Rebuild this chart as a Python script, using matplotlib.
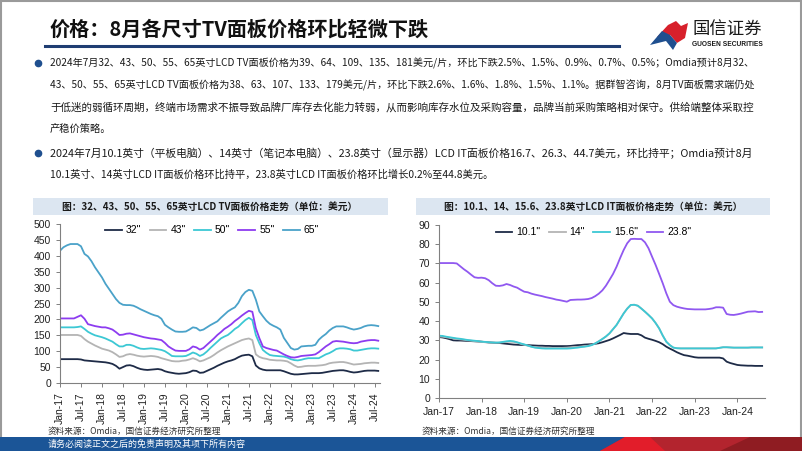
import numpy as np
import matplotlib
matplotlib.use("Agg")
import matplotlib.pyplot as plt
from matplotlib.patches import Polygon, Rectangle

plt.rcParams['font.family'] = ['Noto Sans CJK SC', 'DejaVu Sans']

# ---------------- data ----------------
tv_ticks = ['Jan-17', 'Jul-17', 'Jan-18', 'Jul-18', 'Jan-19', 'Jul-19', 'Jan-20', 'Jul-20',
            'Jan-21', 'Jul-21', 'Jan-22', 'Jul-22', 'Jan-23', 'Jul-23', 'Jan-24', 'Jul-24']
it_ticks = ['Jan-17', 'Jan-18', 'Jan-19', 'Jan-20', 'Jan-21', 'Jan-22', 'Jan-23', 'Jan-24']

# monthly, Jan-17 .. Aug-24 (USD)
tv_32 = [75, 75, 75, 75, 75, 75, 74, 71, 70, 69, 68, 67,
         66, 65, 63, 60, 54, 45, 50, 55, 56, 53, 48, 44,
         42, 41, 42, 43, 44, 42, 37, 34, 32, 30, 29, 30,
         31, 34, 39, 38, 32, 33, 38, 43, 48, 54, 59, 64,
         68, 71, 75, 81, 86, 88, 89, 84, 55, 46, 42, 40,
         40, 40, 40, 40, 37, 33, 29, 27, 27, 28, 29, 30,
         31, 31, 31, 32, 34, 36, 38, 39, 40, 40, 38, 35,
         33, 34, 36, 38, 39, 39, 39, 38]
tv_43 = [151, 151, 151, 151, 151, 151, 148, 138, 130, 124, 118, 113,
         108, 105, 102, 97, 90, 82, 84, 89, 91, 89, 86, 84,
         83, 84, 85, 84, 82, 78, 75, 72, 69, 68, 68, 70,
         71, 74, 78, 74, 68, 71, 76, 81, 88, 96, 103, 109,
         115, 120, 125, 130, 135, 138, 140, 135, 90, 82, 78, 76,
         73, 72, 71, 71, 70, 68, 62, 55, 50, 51, 53, 54,
         54, 54, 55, 56, 58, 62, 64, 65, 66, 66, 64, 61,
         58, 59, 60, 62, 63, 64, 64, 63]
tv_50 = [175, 175, 175, 175, 175, 176, 178, 170, 161, 155, 150, 147,
         144, 140, 135, 130, 122, 115, 115, 120, 120, 117, 112, 108,
         107, 108, 109, 108, 106, 104, 100, 93, 85, 84, 84, 84,
         85, 90, 96, 92, 85, 90, 99, 110, 120, 130, 140, 146,
         151, 160, 170, 177, 188, 198, 205, 198, 151, 125, 104, 95,
         88, 86, 85, 84, 83, 80, 75, 72, 71, 73, 76, 78,
         78, 78, 78, 84, 90, 94, 100, 107, 109, 109, 108, 106,
         102, 102, 104, 106, 108, 109, 109, 108]
tv_55 = [203, 203, 203, 203, 203, 208, 213, 202, 185, 182, 179, 177,
         175, 175, 172, 168, 160, 151, 152, 155, 156, 153, 150, 147,
         144, 142, 140, 139, 137, 135, 126, 115, 108, 102, 101, 101,
         101, 106, 115, 112, 105, 110, 120, 130, 140, 151, 160, 170,
         177, 185, 195, 203, 212, 220, 227, 224, 172, 141, 115, 110,
         107, 104, 102, 96, 90, 85, 81, 80, 82, 85, 86, 87,
         88, 90, 97, 106, 115, 122, 130, 132, 131, 130, 128, 126,
         125, 126, 130, 132, 134, 135, 135, 133]
tv_65 = [416, 427, 433, 437, 437, 437, 430, 406, 398, 383, 364, 348,
         332, 312, 296, 280, 264, 252, 246, 245, 245, 243, 238, 232,
         227, 222, 217, 213, 210, 202, 183, 175, 168, 162, 161, 161,
         162, 168, 175, 173, 165, 168, 175, 182, 188, 194, 205, 215,
         225, 232, 238, 252, 273, 286, 293, 290, 262, 225, 210, 196,
         186, 180, 175, 168, 142, 126, 110, 105, 107, 115, 116, 117,
         117, 120, 136, 146, 154, 165, 173, 178, 178, 178, 175, 171,
         168, 170, 173, 178, 181, 182, 181, 179]

it_101 = [31.7, 31.5, 31.1, 30.6, 30.0, 29.9, 29.9, 29.8, 29.7, 29.6, 29.5, 29.4,
          29.3, 29.1, 28.9, 28.8, 28.7, 28.6, 28.4, 28.2, 28.0, 27.8, 27.7, 27.6,
          27.6, 27.5, 27.4, 27.3, 27.2, 27.2, 27.1, 27.1, 27.0, 27.0, 27.0, 27.0,
          27.0, 27.1, 27.3, 27.5, 27.6, 27.8, 27.9, 28.0, 28.2, 28.5, 29.0, 29.6,
          30.2, 31.0, 31.9, 32.8, 33.8, 33.5, 33.3, 33.3, 33.3, 32.6, 31.4, 30.8,
          30.3, 29.7, 29.0, 28.0, 26.7, 25.7, 24.8, 23.8, 23.0, 22.3, 22.0, 21.6,
          21.2, 21.0, 21.0, 21.0, 21.0, 21.0, 21.0, 21.0, 20.6, 18.9, 18.2, 17.7,
          17.2, 17.0, 16.9, 16.8, 16.8, 16.7, 16.7, 16.7]
it_14 = [32.0, 31.9, 31.6, 31.3, 31.0, 30.7, 30.5, 30.3, 30.0, 29.8, 29.6, 29.4,
         29.2, 29.0, 28.9, 28.8, 28.8, 28.8, 29.0, 29.2, 29.3, 29.2, 28.8, 28.2,
         27.7, 27.2, 26.7, 26.4, 26.2, 26.0, 26.0, 26.0, 26.0, 26.0, 26.0, 26.1,
         26.2, 26.3, 26.5, 26.6, 26.7, 26.9, 27.2, 27.6, 28.4, 29.5, 30.7, 32.0,
         33.6, 35.8, 38.0, 41.0, 44.0, 46.5, 48.4, 48.5, 48.0, 46.5, 44.9, 43.2,
         41.4, 39.0, 36.2, 32.5, 29.3, 27.5, 26.2, 25.9, 25.8, 25.8, 25.8, 25.8,
         25.8, 25.8, 25.8, 25.8, 25.8, 25.8, 25.8, 26.1, 26.4, 26.4, 26.3, 26.2,
         26.2, 26.2, 26.2, 26.2, 26.3, 26.3, 26.3, 26.3]
it_156 = [32.4, 32.3, 31.9, 31.6, 31.3, 31.0, 30.8, 30.5, 30.2, 30.0, 29.8, 29.6,
          29.3, 29.2, 29.0, 28.9, 28.8, 28.9, 29.2, 29.5, 29.7, 29.5, 29.0, 28.4,
          27.9, 27.3, 26.7, 26.2, 26.0, 25.8, 25.7, 25.7, 25.7, 25.7, 25.7, 25.7,
          25.7, 25.8, 26.0, 26.2, 26.5, 26.7, 27.0, 27.5, 28.4, 29.5, 30.7, 32.0,
          33.6, 35.8, 38.0, 41.0, 44.0, 46.5, 48.4, 48.5, 48.0, 46.5, 44.9, 43.2,
          41.4, 39.0, 36.2, 32.5, 29.3, 27.5, 26.2, 25.9, 25.8, 25.8, 25.8, 25.8,
          25.8, 25.8, 25.8, 25.8, 25.8, 25.8, 25.8, 26.1, 26.4, 26.4, 26.3, 26.2,
          26.2, 26.2, 26.2, 26.2, 26.3, 26.3, 26.3, 26.3]
it_238 = [70.2, 70.2, 70.2, 70.2, 70.2, 70.0, 68.5, 67.0, 65.7, 64.2, 62.8, 62.5,
          62.6, 62.3, 61.3, 59.7, 58.4, 58.3, 58.6, 59.3, 58.8, 58.0, 57.4, 56.3,
          55.3, 55.0, 54.3, 53.8, 53.4, 53.0, 52.5, 52.1, 51.7, 51.2, 50.9, 50.5,
          50.1, 51.0, 51.1, 51.2, 51.2, 51.3, 51.5, 52.0, 53.0, 54.3, 56.0, 58.4,
          61.4, 64.5, 68.3, 72.8, 77.0, 80.5, 82.7, 82.8, 82.7, 82.7, 81.0, 77.9,
          73.5, 69.2, 64.5, 59.7, 54.5, 50.1, 48.3, 47.5, 47.0, 46.6, 46.3, 46.2,
          46.1, 46.1, 46.1, 46.1, 46.3, 46.6, 47.2, 47.2, 47.0, 43.7, 43.3, 43.2,
          43.5, 43.9, 44.4, 44.9, 45.0, 45.1, 44.7, 44.8]

title = '价格：8月各尺寸TV面板价格环比轻微下跌'
para1 = ['2024年7月32、43、50、55、65英寸LCD TV面板价格为39、64、109、135、181美元/片，环比下跌2.5%、1.5%、0.9%、0.7%、0.5%；Omdia预计8月32、',
         '43、50、55、65英寸LCD TV面板价格为38、63、107、133、179美元/片，环比下跌2.6%、1.6%、1.8%、1.5%、1.1%。据群智咨询，8月TV面板需求端仍处',
         '于低迷的弱循环周期，终端市场需求不振导致品牌厂库存去化能力转弱，从而影响库存水位及采购容量，品牌当前采购策略相对保守。供给端整体采取控',
         '产稳价策略。']
para2 = ['2024年7月10.1英寸（平板电脑）、14英寸（笔记本电脑）、23.8英寸（显示器）LCD IT面板价格16.7、26.3、44.7美元，环比持平；Omdia预计8月',
         '10.1英寸、14英寸LCD IT面板价格环比持平，23.8英寸LCD IT面板价格环比增长0.2%至44.8美元。']

W, H = 802, 451
fig = plt.figure(figsize=(W / 100, H / 100), dpi=100)
fig.patch.set_facecolor('white')

# page layer in pixel coordinates
bg = fig.add_axes([0, 0, 1, 1])
bg.set_xlim(0, W)
bg.set_ylim(H, 0)
bg.axis('off')

bg.add_patch(Rectangle((0.8, 0.8), W - 1.6, H - 1.6, fill=False, ec='#9a9a9a', lw=1.5))
bg.text(49, 29, title, fontsize=14.5, fontweight='bold', color='#111111', va='center', ha='left')
bg.plot([45, 619], [45.5, 45.5], color='#1f3d72', lw=2.2)

# logo
bg.add_patch(Polygon([(657, 37), (668, 25), (676, 21), (681, 26), (688, 23), (685, 38), (677, 43), (670, 35)],
                     closed=True, fc='#d7202b', ec='none'))
bg.add_patch(Polygon([(650, 45), (662, 31), (670, 35), (677, 43), (673, 50), (666, 41)],
                     closed=True, fc='#1f4f8f', ec='none'))
bg.text(692, 30, '国信证券', fontsize=12.5, color='#1a1a1a', va='center', ha='left')
bg.text(692, 45, 'GUOSEN SECURITIES', fontsize=4.8, fontweight='bold', color='#1a1a1a',
        va='center', ha='left', family=['Liberation Sans Narrow', 'Liberation Sans', 'DejaVu Sans'])

# paragraphs (justified: every line but the last of a paragraph fills the block width)
text_x0, text_x1 = 50, 754
ys1 = [63, 85, 107, 129]
ys2 = [153, 175]
full_lines = []
for para, ys in ((para1, ys1), (para2, ys2)):
    for i, line in enumerate(para):
        t = bg.text(text_x0, ys[i], line, fontsize=7.4, color='#1a1a1a', va='center', ha='left')
        if i < len(para) - 1:
            full_lines.append(t)
for y in (ys1[0], ys2[0]):
    bg.plot(38, y, 'o', ms=4.5, color='#1f4f8f')

renderer = fig.canvas.get_renderer()
for t in full_lines:
    w = t.get_window_extent(renderer).width
    t.set_fontsize(t.get_fontsize() * (text_x1 - text_x0) / w)

# chart title bands
bg.add_patch(Rectangle((33, 198), 355, 17, fc='#dce6f1', ec='none'))
bg.text(210, 206.5, '图：32、43、50、55、65英寸LCD TV面板价格走势（单位：美元）', fontsize=7,
        fontweight='bold', color='#1a1a1a', va='center', ha='center')
bg.add_patch(Rectangle((416, 198), 354, 17, fc='#dce6f1', ec='none'))
bg.text(593, 206.5, '图：10.1、14、15.6、23.8英寸LCD IT面板价格走势（单位：美元）', fontsize=7,
        fontweight='bold', color='#1a1a1a', va='center', ha='center')

# sources
bg.text(48, 431, '资料来源：Omdia，国信证券经济研究所整理', fontsize=6.2, color='#333333', va='center')
bg.text(422, 431, '资料来源：Omdia，国信证券经济研究所整理', fontsize=6.2, color='#333333', va='center')

# footer band
bg.add_patch(Rectangle((0, 437), W, 14, fc='#1b5597', ec='none'))
bg.add_patch(Polygon([(600, 451), (625, 437), (802, 437), (802, 451)], closed=True, fc='#b3242e', ec='none'))
bg.add_patch(Polygon([(600, 451), (625, 437), (650, 437), (665, 451)], closed=True, fc='#e21d2a', ec='none'))
bg.add_patch(Polygon([(720, 451), (750, 437), (802, 437), (802, 451)], closed=True, fc='#8f1c22', ec='none'))
bg.text(48, 444, '请务必阅读正文之后的免责声明及其项下所有内容', fontsize=6.5, color='white', va='center')


def style_axes(ax):
    for s in ('top', 'right'):
        ax.spines[s].set_visible(False)
    for s in ('left', 'bottom'):
        ax.spines[s].set_color('#808080')
        ax.spines[s].set_linewidth(0.8)
    ax.tick_params(direction='out', length=3, width=0.7, color='#808080',
                   labelsize=7.5, labelcolor='#222222')
    for lab in ax.get_xticklabels() + ax.get_yticklabels():
        lab.set_family(['Liberation Sans', 'DejaVu Sans'])


# chart 1: TV panels
m = np.arange(len(tv_32))
ax1 = fig.add_axes([60 / W, 68 / H, 320 / W, 159 / H])
ax1.plot(m, tv_32, color='#1e2b47', lw=1.3, label='32"')
ax1.plot(m, tv_43, color='#b4b4b4', lw=1.3, label='43"')
ax1.plot(m, tv_50, color='#3cc8d4', lw=1.3, label='50"')
ax1.plot(m, tv_55, color='#8d3cf0', lw=1.3, label='55"')
ax1.plot(m, tv_65, color='#4aa2c9', lw=1.3, label='65"')
ax1.set_xlim(0, 91.5)
ax1.set_ylim(0, 500)
ax1.set_yticks(range(0, 501, 50))
ax1.set_xticks(range(0, 91, 6))
ax1.set_xticklabels(tv_ticks, rotation=90)
style_axes(ax1)
ax1.legend(loc='upper center', bbox_to_anchor=(0.475, 1.05), ncol=5, frameon=False,
           handlelength=1.6, handletextpad=0.4, columnspacing=0.8,
           prop={'family': ['Liberation Sans', 'DejaVu Sans'], 'size': 7.5})

# chart 2: IT panels
m2 = np.arange(len(it_101))
ax2 = fig.add_axes([439 / W, 53 / H, 326 / W, 173 / H])
ax2.plot(m2, it_101, color='#1e2b47', lw=1.3, label='10.1"')
ax2.plot(m2, it_14, color='#b4b4b4', lw=1.3, label='14"')
ax2.plot(m2, it_156, color='#3cc8d4', lw=1.3, label='15.6"')
ax2.plot(m2, it_238, color='#9058f0', lw=1.3, label='23.8"')
ax2.set_xlim(0, 91.8)
ax2.set_ylim(0, 90)
ax2.set_yticks(range(0, 91, 10))
ax2.set_xticks(range(0, 85, 12))
ax2.set_xticklabels(it_ticks)
style_axes(ax2)
ax2.legend(loc='upper center', bbox_to_anchor=(0.474, 1.04), ncol=4, frameon=False,
           handlelength=1.6, handletextpad=0.4, columnspacing=0.8,
           prop={'family': ['Liberation Sans', 'DejaVu Sans'], 'size': 7.5})

fig.savefig('out.png', dpi=100)
